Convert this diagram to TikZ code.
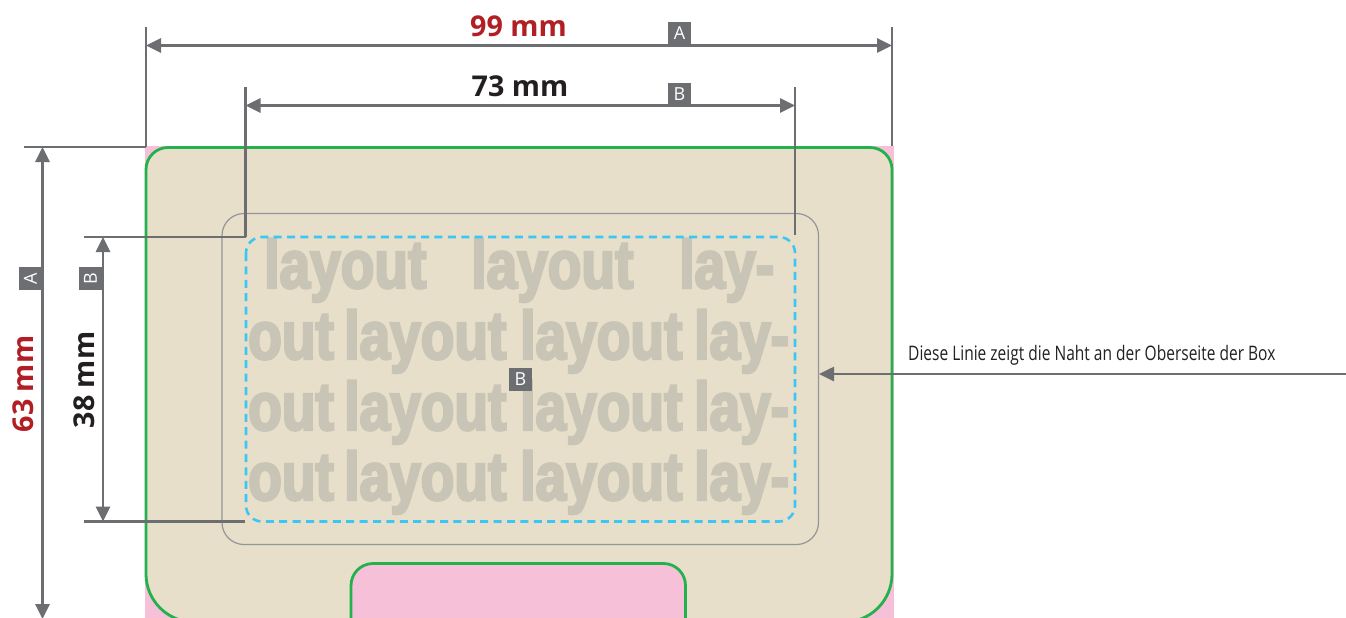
\documentclass[tikz,border=0pt]{standalone}
\usepackage{fontspec}
\setmainfont{Open Sans}
\newfontfamily\seamfont[FakeStretch=0.776]{Open Sans}
\newfontfamily\layoutfont[FakeStretch=0.81,FakeBold=3.6]{Liberation Sans Bold}
\usetikzlibrary{arrows.meta}
\definecolor{dimgray}{HTML}{6D6E71}
\definecolor{boxpink}{HTML}{F6C1D8}
\definecolor{boxbeige}{HTML}{E8DFCA}
\definecolor{cutgreen}{HTML}{22B14C}
\definecolor{safeblue}{HTML}{3CC6F4}
\definecolor{foldgray}{HTML}{939598}
\definecolor{layoutgray}{HTML}{C8C4B6}
\definecolor{sizered}{HTML}{B11F24}
\definecolor{sizeblack}{HTML}{231F20}

\begin{document}
\begin{tikzpicture}[x=1pt,y=-1pt,
    dimline/.style={draw=dimgray,line width=2.6pt,{Triangle[length=15pt,width=14pt]}-{Triangle[length=15pt,width=14pt]}},
    seamline/.style={draw=dimgray,line width=2.6pt,-{Triangle[length=15pt,width=14pt]}},
    extline/.style={draw=dimgray,line width=2.6pt},
    tagbox/.style={fill=dimgray,text=white,font=\fontsize{18}{18}\selectfont,minimum width=23pt,minimum height=23pt,inner sep=0pt},
    sizelabel/.style={font=\fontsize{28.7}{28.7}\selectfont\bfseries,inner sep=0pt},
    layoutword/.style={font=\fontsize{68}{68}\layoutfont,text=layoutgray,inner sep=0pt,anchor=base west}]
  \path[use as bounding box,clip] (0,0) rectangle (1346,618);

  % box
  \fill[boxpink] (145,146) rectangle (894,618);
  \draw[fill=boxbeige,draw=cutgreen,line width=2.8pt]
    (146,400) [rounded corners=22pt] -- (146,147.5) -- (892,147.5) -- (892,400)
    [rounded corners=48pt] -- (892,622) -- (146,622) -- cycle;
  \draw[fill=boxpink,draw=cutgreen,line width=2.8pt,rounded corners=22pt]
    (351,640) -- (351,563.5) -- (685.5,563.5) -- (685.5,640);
  \draw[foldgray,line width=1.2pt,rounded corners=22pt] (222,213.5) rectangle (818.5,544.5);

  % layout text
  \node[layoutword] (w11) at (264,288) {layout};
  \node[layoutword] (w12) at (471,288) {layout};
  \node[layoutword] (w13) at (679,288) {lay-};
  \foreach \row/\ypos in {2/359,3/430,4/500} {
    \node[layoutword] (w\row1) at (248,\ypos) {out};
    \node[layoutword] (w\row2) at (344,\ypos) {layout};
    \node[layoutword] (w\row3) at (520,\ypos) {layout};
    \node[layoutword] (w\row4) at (694,\ypos) {lay-};
  }
  \draw[safeblue,line width=2.6pt,dash pattern=on 8pt off 5.4pt,rounded corners=16pt] (246,237) rectangle (795,521.5);

  % end points
  \coordinate (a1) at (146,27);
  \coordinate (a2) at (146,147);
  \coordinate (a3) at (892,27);
  \coordinate (a4) at (892,146);
  \coordinate (al) at (146,45.5);
  \coordinate (ar) at (892,45.5);
  \coordinate (b1) at (245.5,87);
  \coordinate (b2) at (245.5,237);
  \coordinate (b3) at (795,87);
  \coordinate (b4) at (795,235);
  \coordinate (bl) at (245.5,105.5);
  \coordinate (br) at (795,105.5);
  \coordinate (c1) at (24,147);
  \coordinate (c2) at (42.5,147);
  \coordinate (c3) at (42.5,619);
  \coordinate (d1) at (84,237);
  \coordinate (d2) at (103,237);
  \coordinate (d3) at (84,521.5);
  \coordinate (d4) at (103,521.5);
  \coordinate (d5) at (245,521.5);
  \coordinate (s1) at (1346,374);
  \coordinate (s2) at (819,374);

  \path
    (a1) edge[extline] (a2)
    (a3) edge[extline] (a4)
    (b1) edge[extline] (b2)
    (b3) edge[extline] (b4)
    (c1) edge[extline] (a2)
    (d1) edge[extline] (b2)
    (d3) edge[extline] (d5)
    (al) edge[dimline] (ar)
    (bl) edge[dimline] (br)
    (c2) edge[dimline] (c3)
    (d2) edge[dimline] (d4)
    (s1) edge[seamline] (s2);

  % tags and labels
  \node[tagbox] (tagA) at (679.5,33.5) {A};
  \node[tagbox] (tagB) at (679.5,94.5) {B};
  \node[tagbox,rotate=90] (tagAl) at (30.5,278.5) {A};
  \node[tagbox,rotate=90] (tagBl) at (90.5,278.5) {B};
  \node[tagbox] (tagM) at (520.5,379) {B};
  \node[sizelabel,text=sizered] (w99) at (518.5,26) {99 mm};
  \node[sizelabel,text=sizeblack] (w73) at (520,86) {73 mm};
  \node[sizelabel,text=sizered,rotate=90] (h63) at (23,384) {63 mm};
  \node[sizelabel,text=sizeblack,rotate=90] (h38) at (84.5,380) {38 mm};
  \node[font=\fontsize{20}{20}\seamfont,text=sizeblack,inner sep=0pt,anchor=base west] (seam) at (908,360) {Diese Linie zeigt die Naht an der Oberseite der Box};
\end{tikzpicture}
\end{document}
